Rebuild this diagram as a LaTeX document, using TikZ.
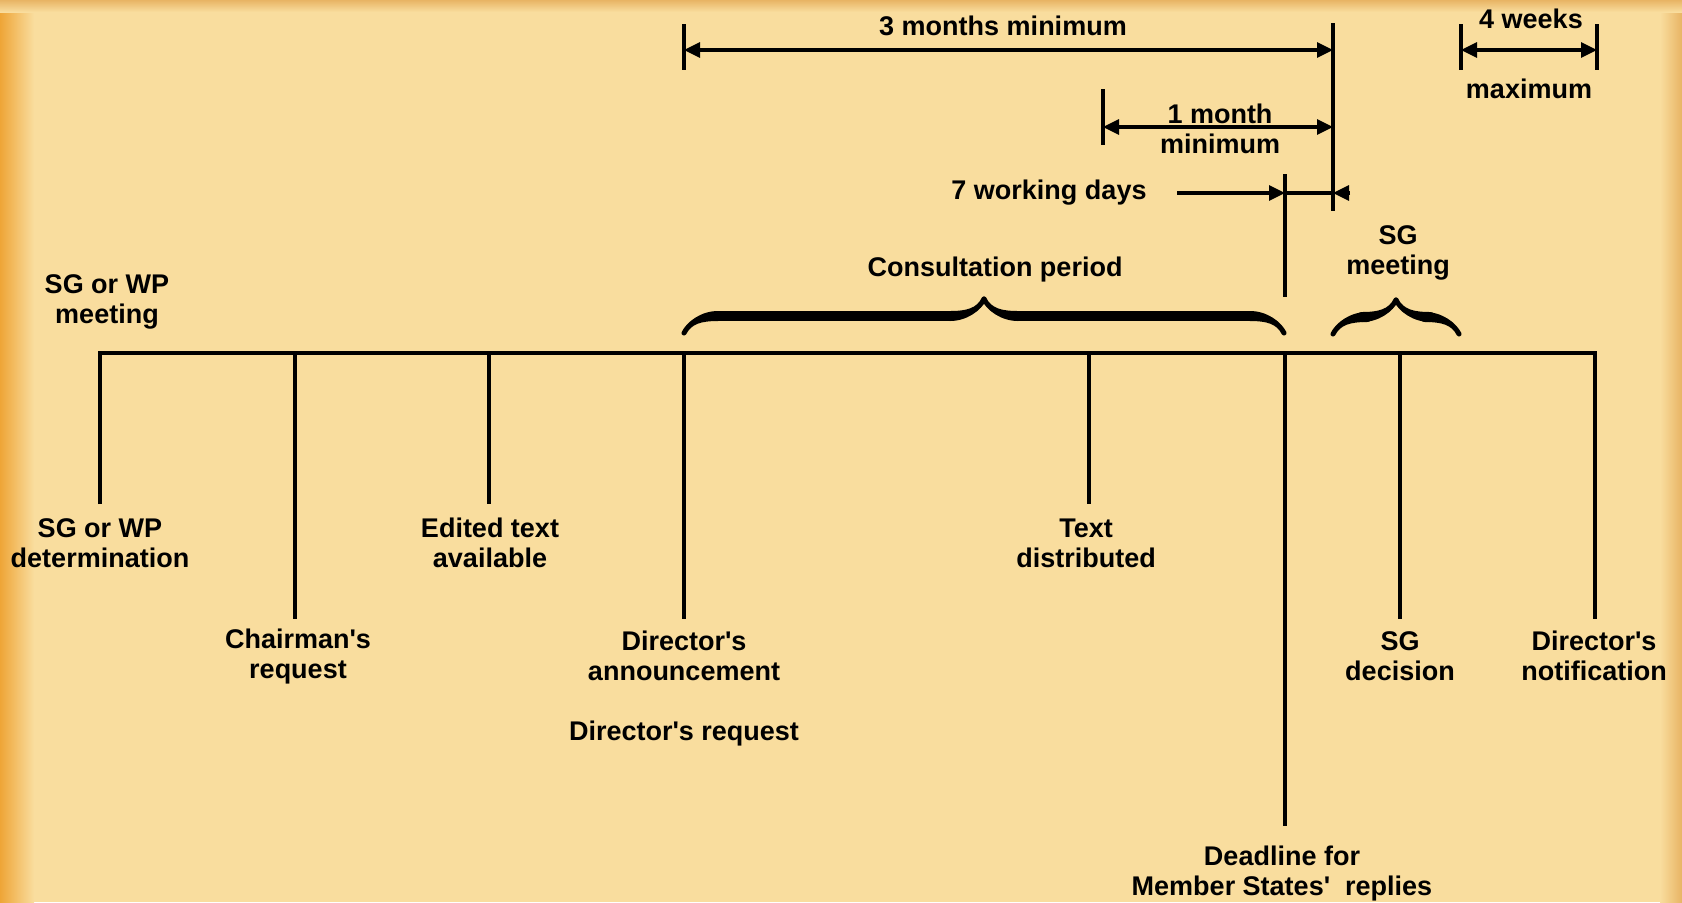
\documentclass[tikz,border=0pt]{standalone}
\usepackage{fontspec}
\setmainfont{Liberation Sans}
\usetikzlibrary{arrows.meta,decorations.pathreplacing,calligraphy}

\definecolor{paper}{RGB}{249,221,158}
\definecolor{edgeor}{RGB}{238,165,55}
\definecolor{edgetop}{RGB}{232,180,100}

\tikzset{
  lbl/.style={font=\bfseries\fontsize{13.5}{15}\selectfont, align=center, inner sep=0pt},
  tickline/.style={line width=1.6pt},
  dimline/.style={line width=1.6pt, {Triangle[length=8pt,width=7.5pt]}-{Triangle[length=8pt,width=7.5pt]}},
  onetip/.style={line width=1.6pt, -{Triangle[length=8pt,width=7.5pt]}},
  bigbrace/.style={decorate, decoration={calligraphic brace, amplitude=17pt}, line width=5pt}
}

\begin{document}
\begin{tikzpicture}[x=0.5pt,y=-0.5pt]
  % Paper
  \useasboundingbox (0,0) rectangle (1682,902);
  \fill[paper] (0,0) rectangle (1682,902);
  \shade[left color=edgeor, right color=paper] (0,0) rectangle (34,902);
  \shade[left color=paper, right color=edgetop] (1660,0) rectangle (1682,902);
  \shade[top color=edgetop, bottom color=paper] (0,0) rectangle (1682,12);

  % Time line
  \coordinate (t1) at (100,353);
  \coordinate (t2) at (295,353);
  \coordinate (t3) at (489,353);
  \coordinate (t4) at (684,353);
  \coordinate (t5) at (1089,353);
  \coordinate (t6) at (1285,353);
  \coordinate (t7) at (1400,353);
  \coordinate (t8) at (1595,353);
  \coordinate (e1) at (100,504);
  \coordinate (e2) at (295,619);
  \coordinate (e3) at (489,504);
  \coordinate (e4) at (684,619);
  \coordinate (e5) at (1089,504);
  \coordinate (e6) at (1285,826);
  \coordinate (e7) at (1400,619);
  \coordinate (e8) at (1595,619);
  \draw[tickline] (e1) -- (t1) -- (t8) -- (e8);
  \foreach \i in {2,...,7}
    \draw[tickline] (t\i) -- (e\i);

  % Events
  \node[lbl] (detA) at (100,543) {SG or WP\\determination};
  \node[lbl] (chair) at (298,657) {Chairman\textquotesingle s\\request};
  \node[lbl] (edited) at (490,543) {Edited text\\available};
  \node[lbl] (annc) at (684,656) {Director\textquotesingle s\\announcement};
  \node[lbl] (dreq) at (684,734) {Director\textquotesingle s request};
  \node[lbl] (textd) at (1086,543) {Text\\distributed};
  \node[lbl] (deadline) at (1282,874) {Deadline for\\Member States\textquotesingle~ replies};
  \node[lbl] (sgdec) at (1400,656) {SG\\decision};
  \node[lbl] (notif) at (1594,656) {Director\textquotesingle s\\notification};

  % Meetings and braces
  \node[lbl] (meetA) at (107,302) {SG or WP\\meeting};
  \node[lbl] (consult) at (995,270) {Consultation period};
  \node[lbl] (sgmeet) at (1398,253) {SG\\meeting};
  \coordinate (cb1) at (684,333);
  \coordinate (cb2) at (1284,333);
  \coordinate (sb1) at (1333,334);
  \coordinate (sb2) at (1459,334);
  \draw[bigbrace] (cb1) -- (cb2);
  \draw[bigbrace] (sb1) -- (sb2);

  % Time limits
  \coordinate (m3a) at (684,50);
  \coordinate (m3b) at (1333,50);
  \coordinate (m1a) at (1103,127);
  \coordinate (m1b) at (1333,127);
  \coordinate (w4a) at (1461,50);
  \coordinate (w4b) at (1597,50);
  \draw[tickline] (684,24) -- (684,70);
  \draw[tickline] (1333,23) -- (1333,211);
  \draw[tickline] (1103,89) -- (1103,145);
  \draw[tickline] (1461,24) -- (1461,70);
  \draw[tickline] (1597,24) -- (1597,70);
  \draw[tickline] (1285,174) -- (1285,297);
  \draw[dimline] (m3a) -- (m3b);
  \draw[dimline] (m1a) -- (m1b);
  \draw[dimline] (w4a) -- (w4b);
  \node[lbl] (three) at (1003,26) {3 months minimum};
  \node[lbl] (onem) at (1220,129) {1 month\\minimum};
  \node[lbl] (weeks) at (1531,19) {4 weeks};
  \node[lbl] (maxim) at (1529,89) {maximum};

  % 7 working days
  \node[lbl] (seven) at (1049,193) {7 working days};
  \coordinate (d7a) at (1177,193);
  \coordinate (d7b) at (1285,193);
  \coordinate (d7c) at (1333,193);
  \coordinate (d7d) at (1350,193);
  \draw[onetip] (d7a) -- (d7b);
  \draw[tickline] (d7b) -- (d7c);
  \draw[onetip] (d7d) -- (d7c);
\end{tikzpicture}
\end{document}
